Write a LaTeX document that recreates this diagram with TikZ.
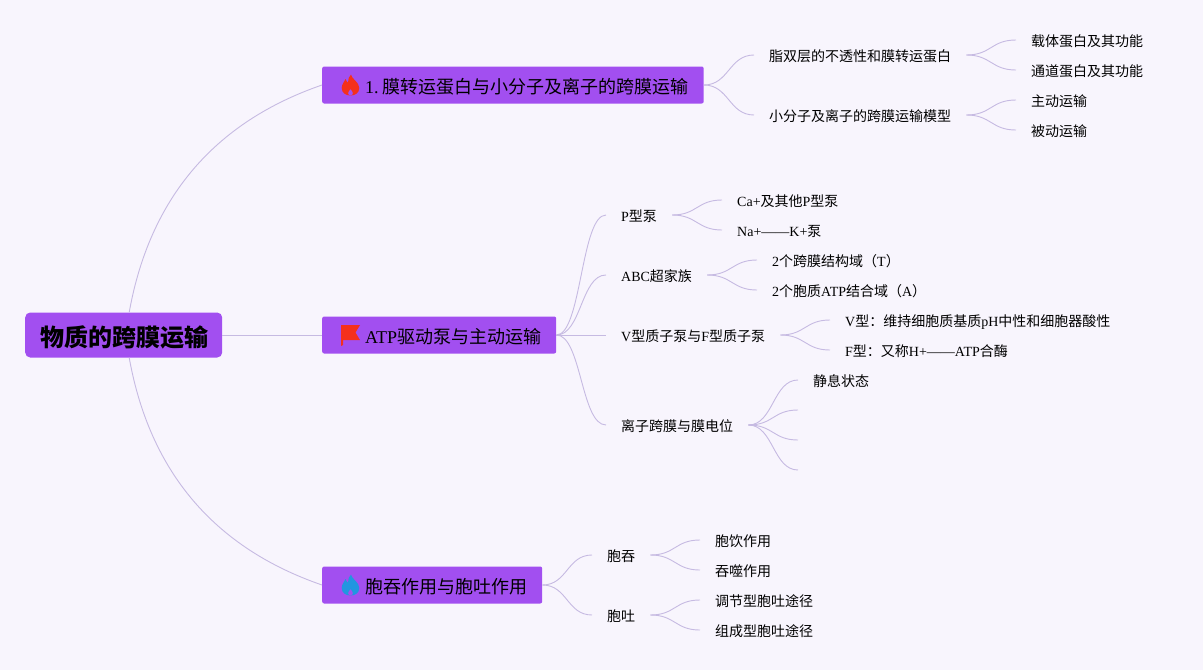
\documentclass[tikz,border=0pt]{standalone}
\usepackage{fontspec}
\setmainfont{Liberation Serif}
\newfontfamily\cjk{Noto Sans CJK SC}
\newcommand{\zh}[1]{{\cjk #1}}
\usetikzlibrary{positioning,calc}
\definecolor{pagebg}{RGB}{248,245,253}
\definecolor{boxpurple}{RGB}{162,79,240}
\definecolor{linkpurple}{RGB}{198,186,226}
\definecolor{firered}{RGB}{245,48,28}
\definecolor{fireblue}{RGB}{33,150,224}

\begin{document}
\begin{tikzpicture}[
  x=1pt,y=-1pt,
  root/.style={fill=boxpurple,draw=none,rounded corners=5pt,minimum width=197pt,minimum height=45pt,
               anchor=west,inner sep=0pt,text height=24pt,text depth=2pt,
               font=\fontsize{24}{28}\selectfont\bfseries},
  branch/.style={fill=boxpurple,draw=none,rounded corners=2pt,minimum height=37pt,anchor=west,
                 inner xsep=15pt,inner ysep=0pt,text height=18pt,text depth=2pt,
                 font=\fontsize{18}{22}\selectfont},
  leaf/.style={anchor=west,inner xsep=15pt,inner ysep=0pt,text height=14pt,text depth=2pt,
               font=\fontsize{14}{16}\selectfont},
  link/.style={draw=linkpurple,line width=0.9pt},
  fork/.style={out=0,in=180,distance=25pt},
  flame/.pic={
    \fill[even odd rule,pic actions] (0.5,-10.5) .. controls (1,-6) and (8.8,-3) .. (8.8,3)
      .. controls (8.8,8) and (4.5,10.5) .. (0,10.5) .. controls (-4.5,10.5) and (-8.8,8) .. (-8.8,3)
      .. controls (-8.8,-1) and (-6,-3) .. (-5,-6) .. controls (-4,-4) and (-3.5,-3) .. (-2.5,-2.5)
      .. controls (-2.5,-6) and (-1.5,-8.5) .. (0.5,-10.5) -- cycle
      (0,4) .. controls (0.8,5.5) and (2.5,6.5) .. (2.5,8.2) .. controls (2.5,9.6) and (1.2,10.5) .. (0,10.5)
      .. controls (-1.2,10.5) and (-2.5,9.6) .. (-2.5,8.2) .. controls (-2.5,6.5) and (-0.8,5.5) .. (0,4) -- cycle;
  }
]
  % Background
  \fill[pagebg] (0,0) rectangle (1203,670);

  % Root
  \node[root] (root) at (25,335) {\hspace{2pt}\zh{物质的跨膜运输}};

  % Main topics
  \node[branch] (transport) at (322,85)  {\hspace{28pt}1.\hspace{4pt}\zh{膜转运蛋白与小分子及离子的跨膜运输}};
  \node[branch] (pump)      at (322,335) {\hspace{28pt}ATP\zh{驱动泵与主动运输}};
  \node[branch] (cyto)      at (322,585) {\hspace{28pt}\zh{胞吞作用与胞吐作用}};

  % Icons
  \pic[firered] at (350.5,85) {flame};
  \fill[firered] (341,325) -- (360,325) -- (355.5,332.5) -- (360,340) -- (343,340) -- (343,345) -- (341,346) -- cycle;
  \pic[fireblue] at (350.5,585) {flame};

  % First topic
  \node[leaf] (lipid) at (754,55)   {\zh{脂双层的不透性和膜转运蛋白}};
  \node[leaf] (model) at (754,115)  {\zh{小分子及离子的跨膜运输模型}};
  \node[leaf] (carrier) at (1016,40)  {\zh{载体蛋白及其功能}};
  \node[leaf] (channel) at (1016,70)  {\zh{通道蛋白及其功能}};
  \node[leaf] (active)  at (1016,100) {\zh{主动运输}};
  \node[leaf] (passive) at (1016,130) {\zh{被动运输}};

  % Second topic
  \node[leaf] (ptype) at (606,215) {P\zh{型泵}};
  \node[leaf] (abc)   at (606,275) {ABC\zh{超家族}};
  \node[leaf] (vf)    at (606,335) {V\zh{型质子泵与}F\zh{型质子泵}};
  \node[leaf] (ion)   at (606,425) {\zh{离子跨膜与膜电位}};
  \node[leaf] (ca)  at (722,200) {Ca+\zh{及其他}P\zh{型泵}};
  \node[leaf] (na)  at (722,230) {Na+——K+\zh{泵}};
  \node[leaf] (tmd) at (757,260) {2\zh{个跨膜结构域（}T\zh{）}};
  \node[leaf] (nbd) at (757,290) {2\zh{个胞质}ATP\zh{结合域（}A\zh{）}};
  \node[leaf] (vtype) at (830,320) {V\zh{型：维持细胞质基质}pH\zh{中性和细胞器酸性}};
  \node[leaf] (ftype) at (830,350) {F\zh{型：又称}H+——ATP\zh{合酶}};
  \node[leaf] (rest)  at (798,380) {\zh{静息状态}};
  \coordinate (blanka) at (798,410);
  \coordinate (blankb) at (798,440);
  \coordinate (blankc) at (798,470);

  % Third topic
  \node[leaf] (endo) at (592,555) {\zh{胞吞}};
  \node[leaf] (exo)  at (592,615) {\zh{胞吐}};
  \node[leaf] (pino)  at (700,540) {\zh{胞饮作用}};
  \node[leaf] (phago) at (700,570) {\zh{吞噬作用}};
  \node[leaf] (regul) at (700,600) {\zh{调节型胞吐途径}};
  \node[leaf] (const) at (700,630) {\zh{组成型胞吐途径}};

  % Links
  \draw[link] ([xshift=5.5pt]root.north) .. controls (149.7,198.3) and (214,122.3) .. (transport.west);
  \draw[link] (root.east) -- (pump.west);
  \draw[link] ([xshift=5.5pt]root.south) .. controls (149.7,471.7) and (214,547.7) .. (cyto.west);

  \draw[link] (transport.east) to[fork] (lipid.west);
  \draw[link] (transport.east) to[fork] (model.west);
  \draw[link] (lipid.east) to[fork] (carrier.west);
  \draw[link] (lipid.east) to[fork] (channel.west);
  \draw[link] (model.east) to[fork] (active.west);
  \draw[link] (model.east) to[fork] (passive.west);

  \draw[link] (pump.east) to[fork] (ptype.west);
  \draw[link] (pump.east) to[fork] (abc.west);
  \draw[link] (pump.east) to[fork] (vf.west);
  \draw[link] (pump.east) to[fork] (ion.west);
  \draw[link] (ptype.east) to[fork] (ca.west);
  \draw[link] (ptype.east) to[fork] (na.west);
  \draw[link] (abc.east) to[fork] (tmd.west);
  \draw[link] (abc.east) to[fork] (nbd.west);
  \draw[link] (vf.east) to[fork] (vtype.west);
  \draw[link] (vf.east) to[fork] (ftype.west);
  \draw[link] (ion.east) to[fork] (rest.west);
  \draw[link] (ion.east) to[fork] (blanka);
  \draw[link] (ion.east) to[fork] (blankb);
  \draw[link] (ion.east) to[fork] (blankc);

  \draw[link] (cyto.east) to[fork] (endo.west);
  \draw[link] (cyto.east) to[fork] (exo.west);
  \draw[link] (endo.east) to[fork] (pino.west);
  \draw[link] (endo.east) to[fork] (phago.west);
  \draw[link] (exo.east) to[fork] (regul.west);
  \draw[link] (exo.east) to[fork] (const.west);
\end{tikzpicture}
\end{document}
